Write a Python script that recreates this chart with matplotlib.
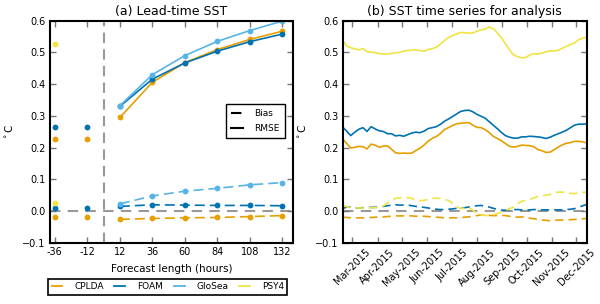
import matplotlib
matplotlib.use("Agg")
import matplotlib.pyplot as plt
import matplotlib.dates as mdates
from matplotlib.lines import Line2D
import pandas as pd

# ---------------- data: panel (a) ----------------
lead_fc = [12, 36, 60, 84, 108, 132]
rmse_cplda = [0.295, 0.406, 0.468, 0.509, 0.541, 0.567]
rmse_foam = [0.330, 0.416, 0.467, 0.504, 0.534, 0.558]
rmse_glosea = [0.332, 0.430, 0.490, 0.535, 0.569, 0.599]
bias_cplda = [-0.026, -0.023, -0.021, -0.020, -0.017, -0.014]
bias_foam = [0.015, 0.020, 0.019, 0.018, 0.018, 0.017]
bias_glosea = [0.023, 0.048, 0.063, 0.072, 0.083, 0.090]

lead_an = [-36, -12]
an_rmse_cplda = [0.226, 0.226]
an_rmse_foam = [0.266, 0.266]
an_bias_cplda = [-0.020, -0.020]
an_bias_foam = [0.011, 0.010]
lead_psy4 = [-36]
an_rmse_psy4 = [0.525]
an_bias_psy4 = [0.026]

lead_ticks = [-36, -12, 12, 36, 60, 84, 108, 132]
lead_ticklabels = ['-36', '-12', '12', '36', '60', '84', '108', '132']

# ---------------- data: panel (b) ----------------
ts_start = '2015-02-17'
ts_step_days = 5
ts_rmse_psy4 = [0.538, 0.520, 0.515, 0.511, 0.508, 0.512, 0.503, 0.501, 0.499, 0.496,
                0.495, 0.495, 0.497, 0.499, 0.500, 0.504, 0.506, 0.507, 0.508, 0.506,
                0.504, 0.509, 0.512, 0.516, 0.526, 0.537, 0.547, 0.553, 0.558, 0.563,
                0.562, 0.561, 0.561, 0.567, 0.571, 0.573, 0.580, 0.575, 0.562, 0.546,
                0.528, 0.508, 0.492, 0.487, 0.483, 0.484, 0.492, 0.496, 0.495, 0.498,
                0.502, 0.505, 0.505, 0.507, 0.513, 0.519, 0.525, 0.530, 0.540, 0.545,
                0.548]
ts_rmse_foam = [0.265, 0.252, 0.238, 0.249, 0.258, 0.263, 0.251, 0.266, 0.259, 0.253,
                0.251, 0.244, 0.244, 0.237, 0.239, 0.236, 0.241, 0.246, 0.249, 0.247,
                0.252, 0.260, 0.263, 0.266, 0.273, 0.283, 0.290, 0.298, 0.306, 0.314,
                0.317, 0.318, 0.313, 0.305, 0.299, 0.293, 0.282, 0.271, 0.260, 0.248,
                0.238, 0.233, 0.230, 0.230, 0.234, 0.234, 0.236, 0.235, 0.234, 0.232,
                0.229, 0.233, 0.239, 0.244, 0.249, 0.255, 0.263, 0.271, 0.274, 0.274,
                0.275]
ts_rmse_cplda = [0.228, 0.213, 0.199, 0.201, 0.204, 0.203, 0.196, 0.211, 0.208, 0.201,
                 0.205, 0.206, 0.195, 0.184, 0.182, 0.183, 0.182, 0.183, 0.191, 0.198,
                 0.208, 0.220, 0.229, 0.235, 0.244, 0.257, 0.263, 0.270, 0.275, 0.277,
                 0.278, 0.279, 0.271, 0.264, 0.263, 0.257, 0.248, 0.236, 0.229, 0.222,
                 0.213, 0.204, 0.202, 0.204, 0.208, 0.207, 0.206, 0.203, 0.194, 0.190,
                 0.185, 0.186, 0.194, 0.202, 0.209, 0.214, 0.216, 0.220, 0.220, 0.218,
                 0.215]
ts_bias_psy4 = [0.018, 0.014, 0.011, 0.011, 0.010, 0.010, 0.010, 0.011, 0.011, 0.012,
                0.016, 0.026, 0.034, 0.040, 0.042, 0.044, 0.043, 0.040, 0.035, 0.033,
                0.034, 0.037, 0.040, 0.041, 0.040, 0.037, 0.034, 0.025, 0.014, 0.008,
                0.010, 0.012, 0.003, -0.006, -0.012, -0.014, -0.013, -0.011, -0.008, -0.003,
                0.002, 0.008, 0.013, 0.024, 0.031, 0.034, 0.037, 0.042, 0.046, 0.048,
                0.050, 0.053, 0.057, 0.060, 0.060, 0.058, 0.056, 0.055, 0.057, 0.059,
                0.060]
ts_bias_foam = [0.008, 0.013, 0.013, 0.011, 0.010, 0.011, 0.012, 0.012, 0.012, 0.013,
                0.015, 0.017, 0.019, 0.020, 0.019, 0.019, 0.019, 0.017, 0.015, 0.013,
                0.012, 0.010, 0.008, 0.006, 0.005, 0.005, 0.006, 0.007, 0.009, 0.010,
                0.011, 0.013, 0.015, 0.017, 0.018, 0.016, 0.013, 0.009, 0.006, 0.003,
                0.003, 0.004, 0.005, 0.005, 0.004, 0.003, 0.004, 0.005, 0.005, 0.004,
                0.004, 0.004, 0.004, 0.004, 0.004, 0.005, 0.006, 0.008, 0.012, 0.017,
                0.021]
ts_bias_cplda = [-0.019, -0.020, -0.021, -0.021, -0.021, -0.021, -0.020, -0.020, -0.019, -0.019,
                 -0.018, -0.017, -0.016, -0.015, -0.015, -0.015, -0.015, -0.015, -0.016, -0.016,
                 -0.016, -0.017, -0.018, -0.019, -0.020, -0.021, -0.021, -0.021, -0.021, -0.020,
                 -0.019, -0.018, -0.016, -0.014, -0.012, -0.012, -0.013, -0.014, -0.014, -0.013,
                 -0.014, -0.016, -0.018, -0.019, -0.018, -0.020, -0.022, -0.024, -0.026, -0.028,
                 -0.029, -0.030, -0.029, -0.028, -0.028, -0.027, -0.027, -0.026, -0.025, -0.024,
                 -0.023]
ts_dates = pd.date_range(ts_start, periods=len(ts_rmse_psy4), freq=f'{ts_step_days}D')

names = ['CPLDA', 'FOAM', 'GloSea', 'PSY4']
colors = {'CPLDA': '#E69F00', 'FOAM': '#0072B2', 'GloSea': '#56B4E9', 'PSY4': '#F0E442'}

# ---------------- style ----------------
plt.rcParams['font.family'] = ['DejaVu Sans']
plt.rcParams['axes.linewidth'] = 1.5

fig = plt.figure(figsize=(6.0, 3.04), dpi=100)
ax1 = fig.add_axes([0.083, 0.201, 0.405, 0.731])
ax2 = fig.add_axes([0.571, 0.201, 0.407, 0.731])

lw = 1.2
ms = 4.2
dash = (0, (6, 3))
gray = '#999999'


def style_axes(ax):
    ax.tick_params(direction='in', length=4, width=1, color='#777777',
                   top=True, right=True, labelsize=7, pad=3)
    ax.set_ylim(-0.1, 0.6)
    ax.set_yticks([-0.1, 0.0, 0.1, 0.2, 0.3, 0.4, 0.5, 0.6])
    ax.set_ylabel(r'$^\circ$C', fontsize=7.5, labelpad=5)


# ---- panel (a) ----
ax1.axhline(0, color=gray, lw=1.5, ls=(0, (5, 3.5)), zorder=1)
ax1.axvline(0, color=gray, lw=1.5, ls=(0, (5, 3)), zorder=1)

fc_rmse = {'CPLDA': rmse_cplda, 'FOAM': rmse_foam, 'GloSea': rmse_glosea}
fc_bias = {'CPLDA': bias_cplda, 'FOAM': bias_foam, 'GloSea': bias_glosea}
for n in ['CPLDA', 'FOAM', 'GloSea']:
    ax1.plot(lead_fc, fc_rmse[n], '-o', color=colors[n], lw=lw, ms=ms, mec='none')
    ax1.plot(lead_fc, fc_bias[n], 'o', ls=dash, color=colors[n], lw=lw, ms=ms, mec='none')

ax1.plot(lead_an, an_rmse_cplda, 'o', color=colors['CPLDA'], ms=ms, mec='none')
ax1.plot(lead_an, an_bias_cplda, 'o', color=colors['CPLDA'], ms=ms, mec='none')
ax1.plot(lead_an, an_rmse_foam, 'o', color=colors['FOAM'], ms=ms, mec='none')
ax1.plot(lead_an, an_bias_foam, 'o', color=colors['FOAM'], ms=ms, mec='none')
ax1.plot(lead_psy4, an_rmse_psy4, 'o', color=colors['PSY4'], ms=ms, mec='none')
ax1.plot(lead_psy4, an_bias_psy4, 'o', color=colors['PSY4'], ms=ms, mec='none')

ax1.set_xlim(-39.7, 139.6)
ax1.set_xticks(lead_ticks)
ax1.set_xticklabels(lead_ticklabels)
style_axes(ax1)
ax1.set_xlabel('Forecast length (hours)', fontsize=7.5, labelpad=5)
ax1.set_title('(a) Lead-time SST', fontsize=9, pad=4)

style_handles = [Line2D([], [], color='black', lw=1.5, ls=(0, (5, 3))),
                 Line2D([], [], color='black', lw=1.5, ls='-')]
leg1 = ax1.legend(style_handles, ['Bias', 'RMSE'], loc='upper right',
                  bbox_to_anchor=(0.985, 0.645), fontsize=6.5, handlelength=1.3,
                  handletextpad=1.2, fancybox=False, edgecolor='black',
                  framealpha=1, borderpad=0.6, labelspacing=0.6)
leg1.get_frame().set_linewidth(1.0)

# ---- panel (b) ----
ax2.axhline(0, color=gray, lw=1.5, ls=(0, (5, 3.5)), zorder=1)
ts_rmse = {'CPLDA': ts_rmse_cplda, 'FOAM': ts_rmse_foam, 'PSY4': ts_rmse_psy4}
ts_bias = {'CPLDA': ts_bias_cplda, 'FOAM': ts_bias_foam, 'PSY4': ts_bias_psy4}
for n in ['CPLDA', 'FOAM', 'PSY4']:
    ax2.plot(ts_dates, ts_rmse[n], '-', color=colors[n], lw=lw)
    ax2.plot(ts_dates, ts_bias[n], ls=(0, (5, 3)), color=colors[n], lw=lw)

ax2.set_xlim(ts_dates[0], ts_dates[-1])
ax2.xaxis.set_major_locator(mdates.MonthLocator(bymonth=range(3, 13)))
ax2.xaxis.set_major_formatter(mdates.DateFormatter('%b-%Y'))
style_axes(ax2)
for lab in ax2.get_xticklabels():
    lab.set_rotation(45)
ax2.set_title('(b) SST time series for analysis', fontsize=9, pad=4)

# ---- shared legend ----
handles = [Line2D([], [], color=colors[n], lw=1.3) for n in names]
leg = fig.legend(handles, names, loc='lower center', bbox_to_anchor=(0.2795, 0.015),
                 ncol=4, fontsize=6.5, handlelength=1.2, handletextpad=1.3,
                 columnspacing=1.2, fancybox=False, edgecolor='black',
                 framealpha=1, borderpad=0.4)
leg.get_frame().set_linewidth(1.2)

fig.savefig('out.png', dpi=100)
